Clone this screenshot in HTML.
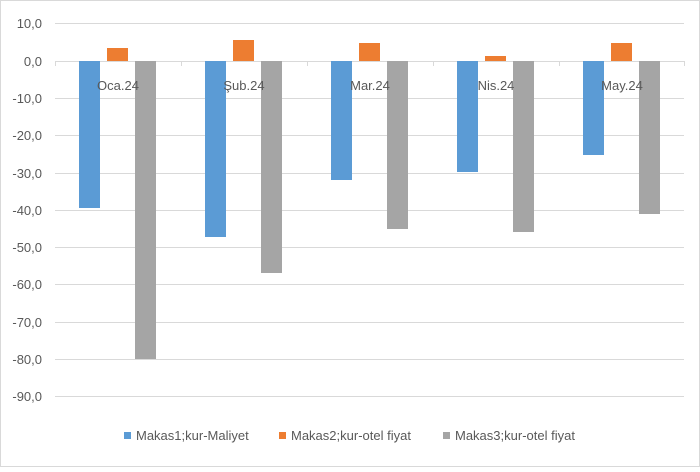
<!DOCTYPE html>
<html><head><style>body{margin:0;background:#fff}</style></head><body>
<svg width="700" height="467" xmlns="http://www.w3.org/2000/svg" font-family="Liberation Sans, sans-serif">
<rect x="0.5" y="0.5" width="699" height="466" fill="#fff" stroke="#d9d9d9"/>
<g stroke="#d9d9d9" stroke-width="1">
<line x1="55" x2="684" y1="23.5" y2="23.5"/><line x1="55" x2="684" y1="98.5" y2="98.5"/>
<line x1="55" x2="684" y1="135.5" y2="135.5"/><line x1="55" x2="684" y1="173.5" y2="173.5"/>
<line x1="55" x2="684" y1="210.5" y2="210.5"/><line x1="55" x2="684" y1="247.5" y2="247.5"/>
<line x1="55" x2="684" y1="284.5" y2="284.5"/><line x1="55" x2="684" y1="322.5" y2="322.5"/>
<line x1="55" x2="684" y1="359.5" y2="359.5"/><line x1="55" x2="684" y1="396.5" y2="396.5"/>
<line x1="55" x2="684" y1="61.5" y2="61.5"/>
<line x1="55.5" x2="55.5" y1="61" y2="66"/><line x1="181.5" x2="181.5" y1="61" y2="66"/><line x1="307.5" x2="307.5" y1="61" y2="66"/><line x1="433.5" x2="433.5" y1="61" y2="66"/><line x1="559.5" x2="559.5" y1="61" y2="66"/><line x1="684.5" x2="684.5" y1="61" y2="66"/>
</g>
<g fill="#595959" font-size="13" text-anchor="end">
<text x="42" y="28">10,0</text><text x="42" y="66">0,0</text><text x="42" y="103">-10,0</text><text x="42" y="140">-20,0</text><text x="42" y="178">-30,0</text><text x="42" y="215">-40,0</text><text x="42" y="252">-50,0</text><text x="42" y="289">-60,0</text><text x="42" y="327">-70,0</text><text x="42" y="364">-80,0</text><text x="42" y="401">-90,0</text>
</g>
<g fill="#5b9bd5">
<rect x="79" y="61" width="21" height="147"/><rect x="205" y="61" width="21" height="176"/><rect x="331" y="61" width="21" height="119"/><rect x="457" y="61" width="21" height="111"/><rect x="583" y="61" width="21" height="94"/>
</g>
<g fill="#ed7d31">
<rect x="107" y="48" width="21" height="13"/><rect x="233" y="40" width="21" height="21"/><rect x="359" y="43" width="21" height="18"/><rect x="485" y="56" width="21" height="5"/><rect x="611" y="43" width="21" height="18"/>
</g>
<g fill="#a5a5a5">
<rect x="135" y="61" width="21" height="298"/><rect x="261" y="61" width="21" height="212"/><rect x="387" y="61" width="21" height="168"/><rect x="513" y="61" width="21" height="171"/><rect x="639" y="61" width="21" height="153"/>
</g>
<g fill="#595959" font-size="13" text-anchor="middle">
<text x="118" y="90">Oca.24</text><text x="244" y="90">Şub.24</text><text x="370" y="90">Mar.24</text><text x="496" y="90">Nis.24</text><text x="622" y="90">May.24</text>
</g>
<g font-size="13" fill="#595959">
<rect x="124" y="432" width="7" height="7" fill="#5b9bd5"/><text x="136" y="440">Makas1;kur-Maliyet</text>
<rect x="279" y="432" width="7" height="7" fill="#ed7d31"/><text x="291" y="440">Makas2;kur-otel fiyat</text>
<rect x="443" y="432" width="7" height="7" fill="#a5a5a5"/><text x="455" y="440">Makas3;kur-otel fiyat</text>
</g>
</svg>
</body></html>
